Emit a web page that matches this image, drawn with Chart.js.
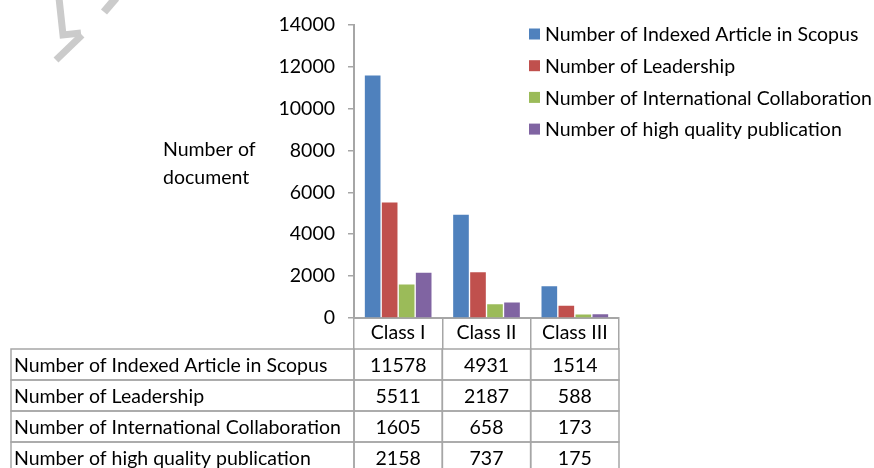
<!DOCTYPE html>
<html lang="en">
<head>
  <meta charset="UTF-8">
  <title>Number of document by class</title>
  <script src="https://cdn.jsdelivr.net/npm/chart.js"></script>
  <style>
    html, body {
      margin: 0;
      padding: 0;
      background: #ffffff;
    }
    #wrap {
      width: 874px;
      height: 468px;
      position: relative;
    }
  </style>
</head>
<body>
  <div id="wrap">
    <canvas id="chart"></canvas>
  </div>

  <script>
    // data
    const classes = ["Class I", "Class II", "Class III"];
    const seriesNames = [
      "Number of Indexed Article in Scopus",
      "Number of Leadership",
      "Number of International Collaboration",
      "Number of high quality publication"
    ];
    const scopus = [11578, 4931, 1514];
    const leadership = [5511, 2187, 588];
    const collaboration = [1605, 658, 173];
    const highQuality = [2158, 737, 175];
    const yTitle = ["Number of", "document"];

    const colors = ["#4f81bd", "#c0504d", "#9bbb59", "#8064a2"];
    const FONT = "Lato, 'Open Sans', sans-serif";
    const FSIZE = 19.5;
    const LINE = "#a6a6a6";
    const ROW_H = 31;

    const allSeries = [scopus, leadership, collaboration, highQuality];

    // faint watermark strokes, y title, legend and data table under the plot
    const extras = {
      id: "extras",
      beforeDraw(chart) {
        const ctx = chart.ctx;
        ctx.save();
        ctx.fillStyle = "#ffffff";
        ctx.fillRect(0, 0, chart.width, chart.height);
        ctx.strokeStyle = "#cbcbcb";
        ctx.lineWidth = 7;
        ctx.lineJoin = "miter";
        ctx.beginPath();
        ctx.moveTo(59, -2);
        ctx.lineTo(63, 35);
        ctx.lineTo(81, 33);
        ctx.stroke();
        ctx.beginPath();
        ctx.moveTo(82, 35);
        ctx.lineTo(56, 60);
        ctx.stroke();
        ctx.lineWidth = 8;
        ctx.beginPath();
        ctx.moveTo(116, -2);
        ctx.lineTo(104, 12);
        ctx.stroke();
        ctx.restore();
      },
      afterDraw(chart) {
        const ctx = chart.ctx;
        const x = chart.scales.x;
        const area = chart.chartArea;
        ctx.save();
        ctx.font = FSIZE + "px " + FONT;
        ctx.fillStyle = "#000000";

        // y title, horizontal on two lines
        ctx.textAlign = "left";
        ctx.textBaseline = "middle";
        ctx.fillText(yTitle[0], 163, 150);
        ctx.fillText(yTitle[1], 163, 178);

        // legend
        chart.data.datasets.forEach((ds, i) => {
          const cy = 34 + i * 31.7;
          ctx.fillStyle = ds.backgroundColor;
          ctx.fillRect(529, cy - 5.5, 11, 11);
          ctx.fillStyle = "#000000";
          ctx.fillText(ds.label, 545, cy + 1);
        });

        // table body
        const catW = (x.right - x.left) / classes.length;
        const top = x.top + ROW_H;
        const left = 11;
        ctx.strokeStyle = LINE;
        ctx.lineWidth = 1.5;
        for (let r = 0; r < seriesNames.length; r++) {
          const y0 = top + r * ROW_H;
          ctx.strokeRect(left, y0, area.left - left, ROW_H);
          ctx.textAlign = "left";
          ctx.fillText(seriesNames[r], left + 3, y0 + ROW_H / 2 + 1);
          ctx.textAlign = "center";
          for (let c = 0; c < classes.length; c++) {
            const cx = x.getPixelForValue(c);
            ctx.strokeRect(cx - catW / 2, y0, catW, ROW_H);
            ctx.fillText(String(allSeries[r][c]), cx, y0 + ROW_H / 2 + 1);
          }
        }
        ctx.restore();
      }
    };

    new Chart(document.getElementById("chart"), {
      type: "bar",
      data: {
        labels: classes,
        datasets: allSeries.map((vals, i) => ({
          label: seriesNames[i],
          data: vals,
          backgroundColor: colors[i],
          borderWidth: 0,
          categoryPercentage: 0.77,
          barPercentage: 0.92
        }))
      },
      options: {
        responsive: true,
        maintainAspectRatio: false,
        animation: false,
        layout: {
          padding: { left: 0, right: 255, top: 23, bottom: 0 }
        },
        plugins: {
          legend: { display: false },
          tooltip: { enabled: false }
        },
        scales: {
          y: {
            min: 0,
            max: 14000,
            ticks: {
              stepSize: 2000,
              padding: 13,
              color: "#000000",
              font: { family: FONT, size: FSIZE },
              callback: v => String(v)
            },
            grid: {
              drawOnChartArea: false,
              drawTicks: true,
              tickLength: 6,
              color: LINE,
              lineWidth: 1.5
            },
            border: { display: true, color: LINE, width: 2 },
            afterFit(scale) {
              scale.width = 354;
            }
          },
          x: {
            ticks: {
              padding: -28,
              maxRotation: 0,
              autoSkip: false,
              color: "#000000",
              font: { family: FONT, size: FSIZE }
            },
            grid: {
              drawOnChartArea: false,
              drawTicks: true,
              tickLength: 31,
              color: LINE,
              lineWidth: 1.5
            },
            border: { display: true, color: LINE, width: 2 },
            afterFit(scale) {
              scale.height = 150;
            }
          }
        }
      },
      plugins: [extras]
    });
  </script>
</body>
</html>
